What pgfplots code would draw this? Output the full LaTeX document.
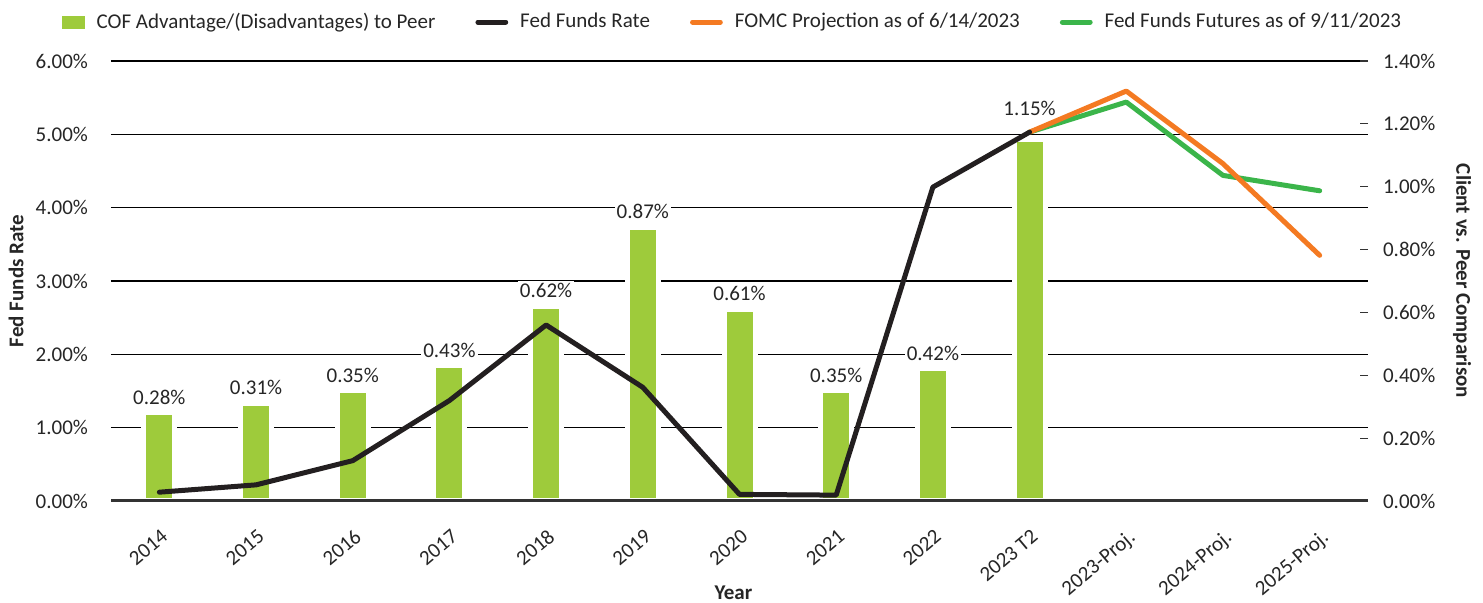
\documentclass[border=0pt]{standalone}
\usepackage{fontspec}
\setmainfont{Carlito}
\usepackage{pgfplots}
\pgfplotsset{compat=1.18}
\pgfkeys{/pgf/number format/assume math mode=true}
\definecolor{barg}{HTML}{9ECB3B}
\definecolor{fedblack}{HTML}{231F20}
\definecolor{fomc}{HTML}{F47A22}
\definecolor{futg}{HTML}{3BB54A}
\definecolor{txt}{HTML}{262626}
\begin{document}
\begin{tikzpicture}[font=\fontsize{10.5}{12.6}\selectfont, text=txt]
\pgfplotsset{
  base/.style={scale only axis, width=628.5pt, height=220pt, xmin=-0.5, xmax=12.5,
    /pgf/number format/assume math mode=true},
  pct/.style={yticklabel={\pgfmathprintnumber[fixed,fixed zerofill,precision=2]{\tick}\%}},
  legline/.style={legend image code/.code={\draw[line width=2.5pt, line cap=round] (0.8pt,0pt) -- (14.7pt,0pt);}},
}
% Axis A: grid, left ticks, x labels, legend
\begin{axis}[base, name=A, ymin=0, ymax=6, ytick={0,1,2,3,4,5,6}, pct,
  axis line style={draw=none}, tick style={draw=none},
  ymajorgrids, grid style={black, line width=0.6pt},
  yticklabel style={anchor=east, xshift=-8pt},
  xtick={0,...,12},
  xticklabels={2014,2015,2016,2017,2018,2019,2020,2021,2022,{2023 T2},2023-Proj.,2024-Proj.,2025-Proj.},
  xticklabel style={rotate=40, anchor=north east, inner sep=1pt, xshift=-7.3pt, yshift=-9.5pt},
  xlabel={Year}, xlabel style={font=\fontsize{10.5}{12.6}\selectfont\bfseries, at={([yshift=-46pt,xshift=-3pt]axis description cs:0.5,0)}, anchor=center},
  ylabel={Fed Funds Rate}, ylabel style={font=\fontsize{10.5}{12.6}\selectfont\bfseries, at={([xshift=-47.5pt]axis description cs:0,0.5)}, anchor=center},
  legend columns=4,
  legend style={draw=none, fill=none, at={([yshift=19.5pt,xshift=-3pt]axis description cs:0.5,1)}, anchor=center,
    font=\fontsize{10.5}{12.6}\selectfont,
    /tikz/every even column/.append style={column sep=18pt},
    /tikz/every odd column/.append style={column sep=4pt}},
]
\addlegendimage{legend image code/.code={\fill[barg] (0pt,-3pt) rectangle (11pt,3pt);}}
\addlegendentry{COF Advantage/(Disadvantages) to Peer}
\addlegendimage{legline, color=fedblack}
\addlegendentry{Fed Funds Rate}
\addlegendimage{legline, color=fomc}
\addlegendentry{FOMC Projection as of 6/14/2023}
\addlegendimage{legline, color=futg}
\addlegendentry{Fed Funds Futures as of 9/11/2023}
\end{axis}
% Axis B: bars, right scale
\begin{axis}[base, ymin=0, ymax=1.4, axis y line*=right, axis x line=none,
  ytick={0,0.2,0.4,0.6,0.8,1,1.2,1.4}, pct,
  y axis line style={draw=none},
  tick align=inside, major tick length=4pt, tick style={black!80, line width=0.6pt},
  yticklabel style={anchor=west, xshift=4pt},
  ylabel={Client vs. Peer Comparison}, ylabel style={font=\fontsize{10.5}{12.6}\selectfont\bfseries, at={([xshift=47pt]axis description cs:1,0.5)}, anchor=center, rotate=180},
  ybar, bar width=15.5pt, bar shift=0pt,
  point meta=y,
  nodes near coords={\pgfmathprintnumber[fixed,fixed zerofill,precision=2]{\pgfplotspointmeta}\%},
  every node near coord/.append style={fill=white, inner sep=1pt, text=txt, font=\fontsize{10.5}{12.6}\selectfont},
]
\addplot[fill=barg, draw=white, line width=2.5pt, every node near coord/.append style={yshift=2pt}]
  coordinates {(0,0.28) (1,0.31) (2,0.35) (3,0.43) (4,0.62) (5,0.87) (6,0.61) (7,0.35) (8,0.42)};
\addplot[fill=barg, draw=white, line width=2.5pt, every node near coord/.append style={yshift=9.5pt}]
  coordinates {(9,1.15)};
\end{axis}
% Axis C: lines, left scale
\begin{axis}[base, ymin=0, ymax=6, hide y axis, axis x line*=bottom, xtick=\empty,
  x axis line style={line width=1.5pt, black!80, -}, clip=false]
\addplot[futg, line width=2.5pt, line join=round, line cap=round]
  coordinates {(9,5.03) (10,5.44) (11,4.44) (12,4.23)};
\addplot[fomc, line width=2.5pt, line join=round, line cap=round]
  coordinates {(9,5.03) (10,5.59) (11,4.60) (12,3.35)};
\addplot[fedblack, line width=2.5pt, line join=round, line cap=round]
  coordinates {(0,0.12) (1,0.22) (2,0.55) (3,1.37) (4,2.40) (5,1.55) (6,0.09) (7,0.08) (8,4.28) (9,5.03)};
\end{axis}
\pgfresetboundingbox
\path ([xshift=-55.5pt,yshift=-51pt]A.south west) rectangle ([xshift=57.5pt,yshift=30.5pt]A.north east);
\end{tikzpicture}
\end{document}
